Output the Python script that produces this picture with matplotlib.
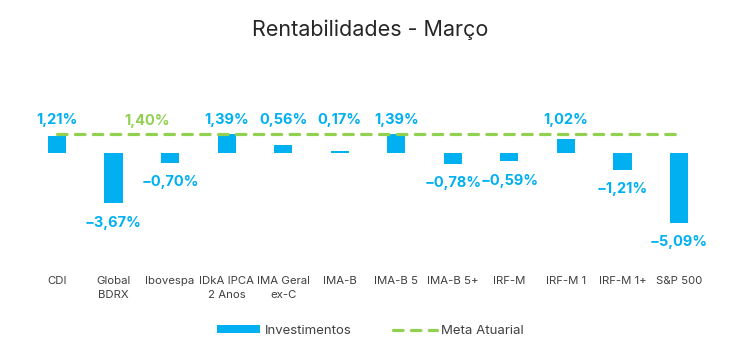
import numpy as np
import matplotlib.pyplot as plt
from matplotlib.lines import Line2D
from matplotlib.patches import Patch

plt.rcParams['font.family'] = ['Inter', 'DejaVu Sans']

categorias = ['CDI', 'Global\nBDRX', 'Ibovespa', 'IDkA IPCA\n2 Anos', 'IMA Geral\nex-C',
              'IMA-B', 'IMA-B 5', 'IMA-B 5+', 'IRF-M', 'IRF-M 1', 'IRF-M 1+', 'S&P 500']
rentabilidades = [1.21, -3.67, -0.70, 1.39, 0.56, 0.17, 1.39, -0.78, -0.59, 1.02, -1.21, -5.09]
meta_atuarial = 1.40

azul = '#00B0F0'
verde = '#92D050'

fig = plt.figure(figsize=(7.51, 3.56), dpi=100)
ax = fig.add_axes([0.0382, 0.2556, 0.9036, 0.4775])

x = np.arange(len(categorias))
ax.bar(x, rentabilidades, width=0.32, color=azul, zorder=2)
ax.plot([x[0], x[-1]], [meta_atuarial, meta_atuarial], color=verde, lw=2.3,
        dashes=(3, 2.6), dash_capstyle='round', zorder=3)

fmt = lambda v: f'{v:.2f}%'.replace('.', ',').replace('-', '\u2212')
for xi, v in zip(x, rentabilidades):
    if v >= 0:
        ax.annotate(fmt(v), (xi, max(v, meta_atuarial)), xytext=(0, 10), textcoords='offset points',
                    ha='center', va='center', color=azul, fontsize=10.5, fontweight='bold')
    else:
        ax.annotate(fmt(v), (xi, v), xytext=(0, -14), textcoords='offset points',
                    ha='center', va='center', color=azul, fontsize=10.5, fontweight='bold')

ax.annotate(fmt(meta_atuarial), (1.59, meta_atuarial), xytext=(0, 9.5), textcoords='offset points',
            ha='center', va='center', color=verde, fontsize=10.5, fontweight='bold')

ax.set_xlim(-0.5, len(categorias) - 0.5)
ax.set_ylim(-8.145, 4.218)
ax.set_xticks(x)
ax.set_xticklabels(categorias, fontsize=8.2, color='#404040', linespacing=1.5)
ax.tick_params(axis='x', length=0, pad=8)
ax.set_yticks([])
for s in ax.spines.values():
    s.set_visible(False)

fig.text(0.493, 1 - 30 / 356, 'Rentabilidades - Março', ha='center', va='center',
         fontsize=15.5, color='#262626')

handles = [Patch(facecolor=azul, label='Investimentos'),
           Line2D([0], [0], color=verde, lw=2.3, dashes=(3, 2.6), dash_capstyle='round',
                  label='Meta Atuarial')]
fig.legend(handles=handles, loc='center', bbox_to_anchor=(0.493, 1 - 331 / 356), ncol=2,
           frameon=False, fontsize=9.5, handlelength=3.3, handleheight=0.55, handletextpad=0.3,
           columnspacing=3.2, labelcolor='#404040')

fig.savefig('out.png', dpi=100)
